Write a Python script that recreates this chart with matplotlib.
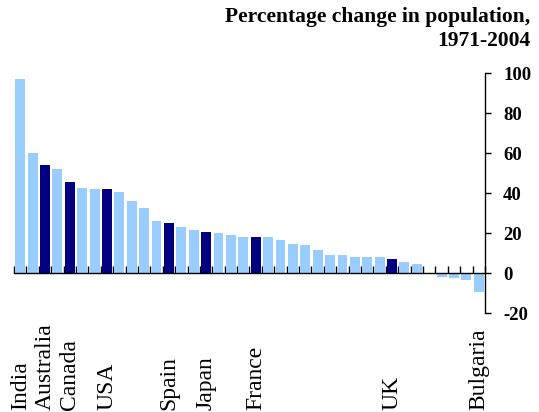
import matplotlib
matplotlib.use('Agg')
import matplotlib.pyplot as plt
import matplotlib.transforms as mtransforms
import numpy as np

# Percentage change in population, 1971-2004 (sorted, one bar per country)
values = [97, 60, 54, 52, 45.5, 42.5, 42, 42, 40.5, 36, 32.5, 26, 25, 23,
          21.5, 20.5, 20, 19, 18, 18, 18, 16.5, 14.5, 14, 11.5, 9, 9, 8,
          8, 8, 7, 5.5, 4.5, 0, -2, -2.5, -3.5, -9.5]
labels = ['India', '', 'Australia', '', 'Canada', '', '', 'USA', '', '', '',
          '', 'Spain', '', '', 'Japan', '', '', '', 'France', '', '', '', '',
          '', '', '', '', '', '', 'UK', '', '', '', '', '', '', 'Bulgaria']
highlight = ['Australia', 'Canada', 'USA', 'Spain', 'Japan', 'France', 'UK']
yticks = [-20, 0, 20, 40, 60, 80, 100]

light = '#99CCFF'
dark = '#000080'

plt.rcParams['font.family'] = 'Liberation Serif'

fig = plt.figure(figsize=(5.39, 4.12), dpi=100)
ax = fig.add_axes([14/539, 99/412, (485-14)/539, 240/412])

x = np.arange(len(values))
colors = [dark if lab in highlight else light for lab in labels]
ax.bar(x, values, width=0.8, color=colors, zorder=2)

ax.set_xlim(-0.5, len(values) - 0.5)
ax.set_ylim(-20, 100)

# y axis on the right
for s in ['left', 'top']:
    ax.spines[s].set_visible(False)
ax.spines['right'].set_linewidth(1.0)
ax.yaxis.tick_right()
ax.set_yticks(yticks)
ax.set_yticklabels([str(v) for v in yticks], fontsize=13.5, fontweight='bold')
ax.tick_params(axis='y', direction='out', length=4, width=1, pad=9)

# x axis at zero with category divider ticks pointing up
ax.spines['bottom'].set_position(('data', 0))
ax.spines['bottom'].set_linewidth(1.0)
ax.spines['bottom'].set_zorder(3)
ax.set_xticks(np.arange(-0.5, len(values), 1.0))
ax.set_xticklabels([])
ax.tick_params(axis='x', direction='in', length=5, width=1)

trans = mtransforms.blended_transform_factory(ax.transData, fig.transFigure)
for i, lab in enumerate(labels):
    if lab:
        ax.text(i, 0.004, lab, transform=trans, rotation=90, ha='center',
                va='bottom', fontsize=17)

fig.text(530/539, 1 - 7/412, 'Percentage change in population,\n1971-2004',
         ha='right', va='top', multialignment='right', fontsize=15.5,
         fontweight='bold', linespacing=1.3)

fig.savefig('out.png', dpi=100)
